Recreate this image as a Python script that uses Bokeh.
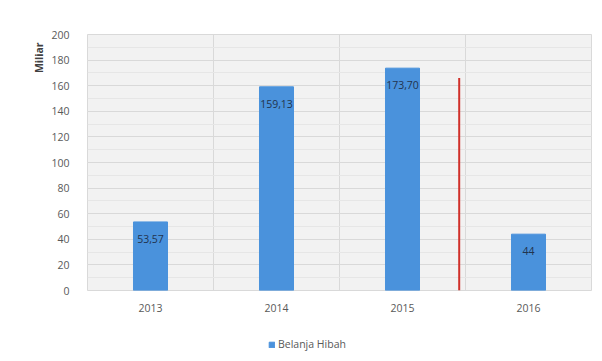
from bokeh.plotting import figure
from bokeh.layouts import column
from bokeh.models import (ColumnDataSource, FixedTicker, LabelSet, Legend, LegendItem,
                          Range1d, Title)
from bokeh.core.properties import value
from bokeh.embed import file_html
from bokeh.resources import INLINE

# ---- data ----
years = ["2013", "2014", "2015", "2016"]
belanja_hibah = [53.57, 159.13, 173.70, 44]
value_labels = ["53,57", "159,13", "173,70", "44"]
y_ticks = [0, 20, 40, 60, 80, 100, 120, 140, 160, 180, 200]
series_name = "Belanja Hibah"
axis_title = "Miliar"
marker_pos = 2.95      # red divider, in category units
marker_top = 166

FONT = "Open Sans"
FS = "10.5px"
BAR = "#4a92dc"
GRID = "#d9d9d9"
TXT = "#595959"
BORDER_BG = "#ffffff"

x_pos = [i + 0.5 for i in range(len(years))]
src = ColumnDataSource(dict(x=x_pos, top=belanja_hibah, lab=value_labels))

p = figure(frame_width=504, frame_height=256, output_backend="svg",
           toolbar_location=None,
           x_range=Range1d(0, len(years)), y_range=Range1d(0, 200),
           min_border_left=87, min_border_right=8, min_border_top=34,
           min_border_bottom=36)
p.background_fill_color = "#f2f2f2"
p.border_fill_color = BORDER_BG
p.outline_line_color = GRID

r = p.vbar(x="x", top="top", width=0.27, source=src, color=BAR)

p.segment(x0=[marker_pos], y0=[0], x1=[marker_pos], y1=[marker_top],
          line_color="#d0302a", line_width=2)

labels = LabelSet(x="x", y="top", text="lab", source=src, y_offset=-17,
                  text_align="center", text_baseline="middle",
                  text_font=value(FONT), text_font_size=FS, text_color="#22344f")
p.add_layout(labels)

# axes
p.yaxis.ticker = FixedTicker(ticks=y_ticks, minor_ticks=list(range(0, 201, 10)))
p.xaxis.ticker = FixedTicker(ticks=x_pos)
p.xaxis.major_label_overrides = {x: y for x, y in zip(x_pos, years)}
for ax in (p.xaxis, p.yaxis):
    ax.axis_line_color = None
    ax.major_tick_line_color = None
    ax.minor_tick_line_color = None
    ax.major_label_text_font = FONT
    ax.major_label_text_font_size = FS
    ax.major_label_text_color = TXT
p.yaxis.major_label_standoff = 12
p.xaxis.major_label_standoff = 7

# y axis title at the top of the axis
p.add_layout(Title(text=axis_title, align="right", text_font=FONT,
                   text_font_size=FS, text_font_style="bold",
                   text_color="#404040", standoff=6, offset=8), "left")

# grids
p.ygrid.ticker = FixedTicker(ticks=y_ticks, minor_ticks=list(range(0, 201, 10)))
p.ygrid.grid_line_color = GRID
p.ygrid.minor_grid_line_color = "#e6e6e6"
p.xgrid.ticker = FixedTicker(ticks=list(range(0, len(years) + 1)))
p.xgrid.grid_line_color = GRID

# legend strip below the chart (same series, hidden renderer)
lg = figure(width=599, height=30, output_backend="svg", toolbar_location=None,
            x_range=Range1d(0, 1), y_range=Range1d(0, 1),
            x_axis_location=None, y_axis_location=None,
            min_border_left=0, min_border_right=0, min_border_top=0,
            min_border_bottom=0)
lg.grid.visible = False
lg.outline_line_color = None
lg.background_fill_color = BORDER_BG
lg.border_fill_color = BORDER_BG
lr = lg.vbar(x="x", top="top", width=0.27, source=src, color=BAR)
lr.visible = False
legend = Legend(items=[LegendItem(label=series_name, renderers=[lr])],
                orientation="horizontal", location=(181, 5),
                label_text_font=FONT, label_text_font_size=FS,
                label_text_color=TXT, glyph_width=7, glyph_height=7,
                label_standoff=3, border_line_color=None,
                background_fill_alpha=0, margin=0, padding=4,
                inactive_fill_alpha=0)
lg.add_layout(legend, "center")

layout = column(p, lg, spacing=0)
open("out.html", "w").write(file_html(layout, INLINE))
